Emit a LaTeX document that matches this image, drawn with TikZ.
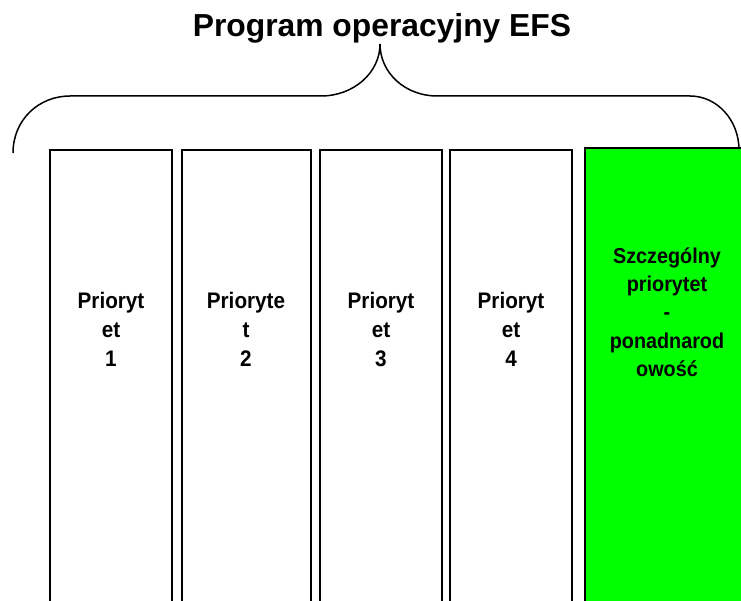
\documentclass[tikz,border=0pt]{standalone}
\usepackage{fontspec}
\setmainfont{Liberation Sans}
\newfontfamily\narrowfont[FakeStretch=0.92]{Liberation Sans}
\definecolor{brightgreen}{RGB}{0,255,0}
\begin{document}
\begin{tikzpicture}[x=1pt,y=-1pt,
  col/.style={draw=black, line width=1.5pt, anchor=north west, inner sep=0pt, outer sep=0pt, minimum height=520pt},
  lbl/.style={align=center, inner sep=0pt, font=\narrowfont\fontsize{22.5}{29.3}\selectfont\bfseries},
  glbl/.style={align=center, inner sep=0pt, font=\narrowfont\fontsize{21.5}{28.3}\selectfont\bfseries},
  bracepath/.style={draw=black, line width=1.5pt}]
\useasboundingbox (0,0) rectangle (741,601);
\clip (0,0) rectangle (741,601);
% title
\node[font=\fontsize{31.8}{37}\selectfont\bfseries, inner sep=0pt] (title) at (382,28) {Program operacyjny EFS};
% brace
\draw[bracepath] (13,153) .. controls (13,120) and (38.5,96) .. (70,96) -- (321,96)
  .. controls (353.6,96) and (380,72.7) .. (380,44)
  .. controls (380,72.7) and (405,96) .. (437,96) -- (690,96)
  .. controls (717,96) and (739,120) .. (739,150);
% columns
\node[col, minimum width=122pt] (b1) at (50,150) {};
\node[col, minimum width=129pt] (b2) at (182,150) {};
\node[col, minimum width=122pt] (b3) at (320,150) {};
\node[col, minimum width=122pt] (b4) at (450,150) {};
\node[col, fill=brightgreen, minimum width=200pt] (b5) at (585,148) {};
% labels
\node[lbl] (t1) at (111,329.5) {Prioryt\\et\\1};
\node[lbl] (t2) at (246,329.5) {Prioryte\\t\\2};
\node[lbl] (t3) at (381,329.5) {Prioryt\\et\\3};
\node[lbl] (t4) at (511,329.5) {Prioryt\\et\\4};
\node[glbl] (t5) at (667,312) {Szczególny\\priorytet\\-\\ponadnarod\\owość};
\end{tikzpicture}
\end{document}
